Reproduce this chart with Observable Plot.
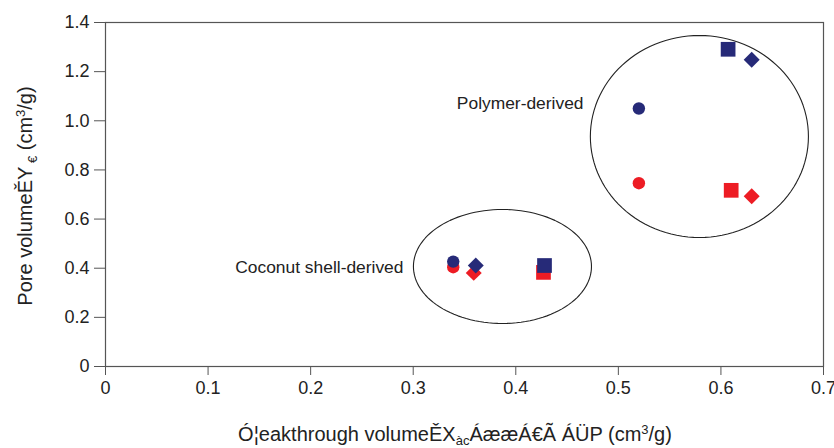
<!DOCTYPE html>
<html>
<head>
<meta charset="utf-8">
<script src="https://cdn.jsdelivr.net/npm/d3@7"></script>
<script src="https://cdn.jsdelivr.net/npm/@observablehq/plot@0.6"></script>
<style>
  html, body { margin: 0; padding: 0; background: #fff; }
  #chart { width: 834px; height: 448px; }
  svg { font-family: "Liberation Sans", Arial, sans-serif; }
</style>
</head>
<body>
<div id="chart"></div>
<script>
// ---- data ----
const xTicks = [0, 0.1, 0.2, 0.3, 0.4, 0.5, 0.6, 0.7];
const yTicks = [0, 0.2, 0.4, 0.6, 0.8, 1.0, 1.2, 1.4];

const sampleShape = ["circle", "diamond", "square", "circle", "square", "diamond"];
const sampleGroup = ["Coconut shell-derived", "Coconut shell-derived", "Coconut shell-derived",
                     "Polymer-derived", "Polymer-derived", "Polymer-derived"];

// red series
const redBreakthrough = [0.339, 0.359, 0.427, 0.520, 0.610, 0.630];
const redPore         = [0.404, 0.381, 0.383, 0.746, 0.717, 0.693];
// blue series
const blueBreakthrough = [0.339, 0.361, 0.428, 0.520, 0.607, 0.630];
const bluePore         = [0.427, 0.411, 0.411, 1.050, 1.291, 1.248];

// group ellipses (annotation outlines)
const ellipseGroup = ["Coconut shell-derived", "Polymer-derived"];
const ellipseCx = [0.387, 0.579];
const ellipseCy = [0.407, 0.936];
const ellipseRx = [0.0868, 0.1063];
const ellipseRy = [0.232, 0.411];

// group labels
const labelText = ["Coconut shell-derived", "Polymer-derived"];
const labelX = [0.2905, 0.466];
const labelY = [0.403, 1.070];

// ---- build tables ----
const symbolMap = {circle: "circle", diamond: "diamond2", square: "square"};
const redData = redBreakthrough.map((x, i) => ({x, y: redPore[i], shape: sampleShape[i], group: sampleGroup[i]}));
const blueData = blueBreakthrough.map((x, i) => ({x, y: bluePore[i], shape: sampleShape[i], group: sampleGroup[i]}));

const ellipsePts = [];
ellipseGroup.forEach((g, k) => {
  d3.range(0, 361, 3).forEach(a => {
    const t = a * Math.PI / 180;
    ellipsePts.push({g, x: ellipseCx[k] + ellipseRx[k] * Math.cos(t), y: ellipseCy[k] + ellipseRy[k] * Math.sin(t)});
  });
});
const labels = labelText.map((t, i) => ({t, x: labelX[i], y: labelY[i]}));

const RED = "#ed1c24", BLUE = "#262a78";
const fmt = d => d === 0 ? "0" : d.toFixed(1);
const rFor = s => s === "circle" ? 6.2 : s === "square" ? 8.3 : 7.2;

const dots = (data, color) => ["circle", "diamond", "square"].map(s =>
  Plot.dot(data.filter(d => d.shape === s), {
    x: "x", y: "y", symbol: () => symbolMap[s], r: rFor(s), fill: color, stroke: "none"
  })
);

const chart = Plot.plot({
  width: 834,
  height: 448,
  marginLeft: 105,
  marginRight: 11,
  marginTop: 22,
  marginBottom: 82,
  style: {fontFamily: "'Liberation Sans', Arial, sans-serif", background: "#fff"},
  x: {domain: [0, 0.7]},
  y: {domain: [0, 1.4]},
  symbol: {type: "identity"},
  marks: [
    Plot.axisX({ticks: xTicks, tickFormat: fmt, tickSize: 9, tickPadding: 6, fontSize: 18, label: null, stroke: "#555", fill: "#222"}),
    Plot.axisY({ticks: yTicks, tickFormat: fmt, tickSize: 11, tickPadding: 5, fontSize: 18, label: null, stroke: "#555", fill: "#222"}),
    Plot.frame({stroke: "#555", strokeWidth: 1.2}),
    Plot.line(ellipsePts, {x: "x", y: "y", z: "g", stroke: "#222", strokeWidth: 1.1, curve: "linear-closed"}),
    ...dots(redData, RED),
    ...dots(blueData, BLUE),
    Plot.text(labels, {x: "x", y: "y", text: "t", textAnchor: "end", fontSize: 17.4, fill: "#222"})
  ]
});

document.getElementById("chart").appendChild(chart);

// axis titles with sub/superscripts
const svg = d3.select(chart);
const xl = svg.append("text")
  .attr("x", 455).attr("y", 441)
  .attr("text-anchor", "middle")
  .attr("font-size", 20).attr("fill", "#222");
xl.append("tspan").text("Ó¦eakthrough volumeĚX");
xl.append("tspan").attr("font-size", 13).attr("dy", 4).text("àc");
xl.append("tspan").attr("dy", -4).text("ÁææÁ€Ã ÁÜP (cm");
xl.append("tspan").attr("font-size", 13).attr("dy", -7).text("3");
xl.append("tspan").attr("dy", 7).text("/g)");

const yl = svg.append("text")
  .attr("transform", "translate(32,196) rotate(-90)")
  .attr("text-anchor", "middle")
  .attr("font-size", 20).attr("fill", "#222");
yl.append("tspan").text("Pore volumeĚY");
yl.append("tspan").attr("font-size", 13).attr("dy", 5).text(" €");
yl.append("tspan").attr("dy", -5).text(" (cm");
yl.append("tspan").attr("font-size", 13).attr("dy", -7).text("3");
yl.append("tspan").attr("dy", 7).text("/g)");
</script>
</body>
</html>
